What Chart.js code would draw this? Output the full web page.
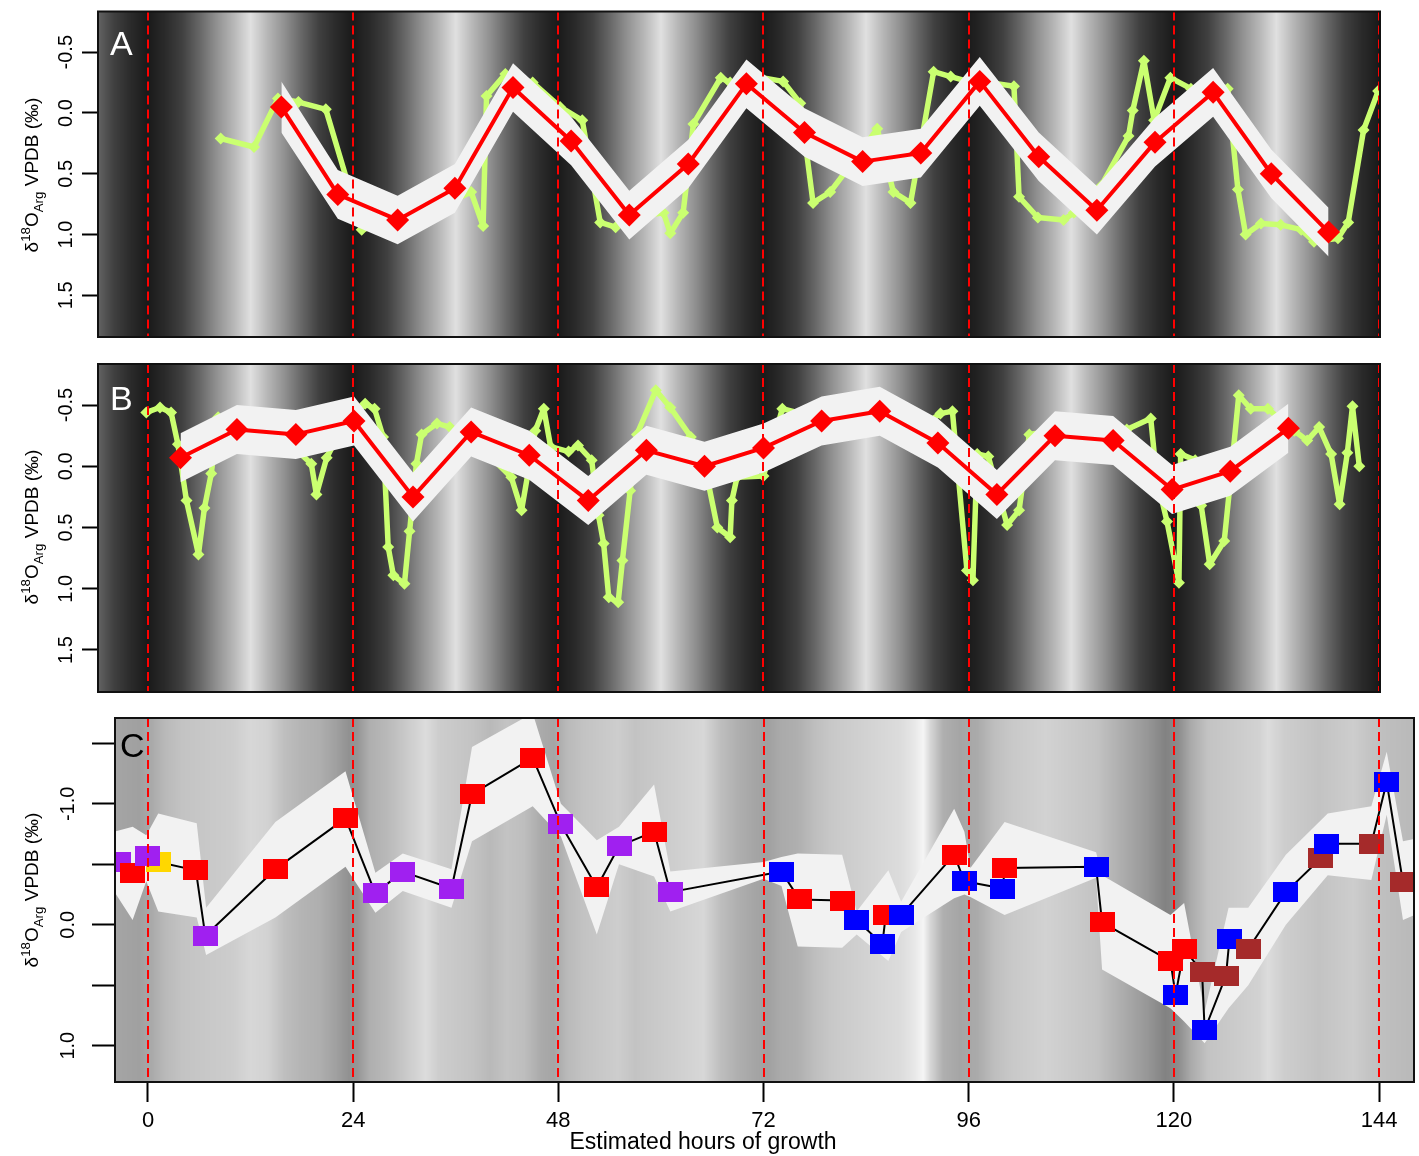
<!DOCTYPE html>
<html>
<head>
<meta charset="utf-8">
<script src="https://cdn.jsdelivr.net/npm/chart.js@4.4.0/dist/chart.umd.min.js"></script>
<style>
  body { margin: 0; background: #fff; width: 1419px; height: 1156px; overflow: hidden; position: relative; }
  canvas { position: absolute; left: 0; }
</style>
</head>
<body>
<canvas id="chartA" width="1419" height="350" style="top:0px"></canvas>
<canvas id="chartB" width="1419" height="355" style="top:350px"></canvas>
<canvas id="chartC" width="1425" height="451" style="top:705px"></canvas>
<script>
const FONT = "'Liberation Sans', Arial, Helvetica, sans-serif";

/* ─── axes ─── */
const dayLines = [0, 24, 48, 72, 96, 120, 144];
const hourTicks = [0, 24, 48, 72, 96, 120, 144];
const abTicks = [-0.5, 0.0, 0.5, 1.0, 1.5];
const abTickLabels = ['-0.5', '0.0', '0.5', '1.0', '1.5'];
const cTicks = [-1.5, -1.0, -0.5, 0.0, 0.5, 1.0];
const cTickLabels = ['', '-1.0', '', '0.0', '', '1.0'];

/* ─── panel A ─── */
const aHours = [15.6, 22.2, 29.2, 35.9, 42.7, 49.5, 56.3, 63.2, 70.0, 76.8, 83.6, 90.4, 97.3, 104.2, 111.0, 117.8, 124.6, 131.4, 138.1];
const aMean  = [-0.05, 0.67, 0.88, 0.62, -0.21, 0.23, 0.84, 0.42, -0.24, 0.16, 0.40, 0.33, -0.26, 0.36, 0.80, 0.24, -0.17, 0.50, 0.98];
const aUpper = [-0.26, 0.47, 0.68, 0.42, -0.41, 0.03, 0.64, 0.22, -0.44, -0.04, 0.20, 0.13, -0.46, 0.16, 0.60, 0.04, -0.37, 0.30, 0.78];
const aLower = [0.16, 0.87, 1.08, 0.82, -0.01, 0.43, 1.04, 0.62, -0.04, 0.36, 0.60, 0.53, -0.06, 0.56, 1.00, 0.44, 0.03, 0.70, 1.18];
const aRawHours = [8.5, 12.4, 15.2, 17.6, 20.8, 25.0, 31.8, 37.8, 39.2, 39.6, 41.8, 45.0, 48.2, 50.8, 52.9, 54.7, 57.5, 60.3, 61.1, 62.6,
  63.8, 67.0, 68.1, 71.0, 74.3, 76.3, 77.8, 79.8, 82.5, 85.3, 87.2, 89.2, 91.9, 93.9, 95.9, 98.5, 101.3, 101.9, 104.1, 107.1,
  108.3, 111.5, 114.7, 115.2, 116.5, 117.7, 119.6, 122.0, 124.5, 126.3, 127.5, 128.4, 130.2, 132.5, 134.9, 136.4, 139.2, 140.4, 142.2, 143.9];
const aRaw = [0.21, 0.28, -0.12, -0.09, -0.03, 0.96, 0.85, 0.65, 0.93, -0.14, -0.32, -0.25, -0.05, 0.06, 0.90, 0.94, 0.85, 0.82, 0.99, 0.82,
  0.09, -0.29, -0.25, -0.30, -0.26, -0.08, 0.74, 0.65, 0.40, 0.13, 0.65, 0.74, -0.34, -0.30, -0.26, -0.25, -0.22, 0.69, 0.86, 0.88,
  0.82, 0.60, 0.19, -0.02, -0.43, 0.06, -0.29, -0.20, -0.25, -0.20, 0.63, 1.00, 0.91, 0.92, 0.96, 1.06, 1.03, 0.90, 0.14, -0.18];

/* ─── panel B ─── */
const bHours = [3.8, 10.4, 17.3, 24.1, 31.0, 37.8, 44.6, 51.5, 58.3, 65.1, 72.0, 78.8, 85.6, 92.4, 99.3, 106.1, 112.9, 119.8, 126.6, 133.4];
const bMean  = [-0.07, -0.30, -0.26, -0.37, 0.25, -0.28, -0.09, 0.28, -0.13, 0.00, -0.15, -0.37, -0.45, -0.19, 0.23, -0.25, -0.21, 0.19, 0.04, -0.31];
const bUpper = [-0.27, -0.50, -0.46, -0.57, 0.05, -0.48, -0.29, 0.08, -0.33, -0.20, -0.35, -0.57, -0.65, -0.39, 0.03, -0.45, -0.41, -0.01, -0.16, -0.51];
const bLower = [0.13, -0.10, -0.06, -0.17, 0.45, -0.08, 0.11, 0.48, 0.07, 0.20, 0.05, -0.17, -0.25, 0.01, 0.43, -0.05, -0.01, 0.39, 0.24, -0.11];
const bRawHours = [-0.2, 1.4, 2.7, 3.5, 4.5, 5.9, 6.6, 7.4, 8.2, 12.0, 16.0, 19.1, 19.7, 20.9, 23.0, 25.4, 26.5, 27.5, 28.1, 28.7,
  30.0, 30.6, 31.4, 32.0, 33.8, 35.3, 39.0, 42.5, 43.7, 45.3, 46.3, 47.1, 49.2, 50.3, 51.9, 52.7, 53.3, 53.9, 55.0, 55.5,
  56.4, 57.2, 59.4, 61.1, 63.5, 65.0, 66.6, 68.1, 68.3, 68.9, 72.0, 74.2, 78.0, 82.0, 86.0, 90.0, 92.7, 94.1, 95.8, 96.5,
  97.0, 98.3, 100.5, 101.9, 103.1, 107.0, 111.6, 114.5, 117.3, 118.0, 119.2, 120.6, 120.8, 122.5, 123.2, 124.2, 125.9, 126.5, 127.6, 129.0,
  131.0, 132.5, 134.1, 135.6, 137.0, 138.4, 139.4, 140.3, 140.9, 141.7];
const bRaw = [-0.44, -0.48, -0.44, -0.18, 0.28, 0.72, 0.34, 0.06, -0.40, -0.28, -0.22, -0.02, 0.23, -0.07, -0.35, -0.51, -0.47, -0.24, 0.66, 0.89,
  0.96, 0.53, -0.02, -0.26, -0.35, -0.32, -0.15, 0.09, 0.36, -0.29, -0.47, -0.16, -0.12, -0.17, -0.05, 0.40, 0.63, 1.07, 1.11, 0.77,
  0.20, -0.26, -0.62, -0.48, -0.24, -0.05, 0.50, 0.58, 0.28, 0.09, 0.08, -0.47, -0.40, -0.45, -0.45, -0.30, -0.43, -0.45, 0.85, 0.93,
  -0.10, -0.08, 0.48, 0.36, -0.26, -0.30, -0.33, -0.30, -0.39, 0.10, 0.45, 0.95, -0.10, -0.05, 0.32, 0.80, 0.61, 0.20, -0.58, -0.47,
  -0.47, -0.38, -0.29, -0.21, -0.32, -0.10, 0.31, -0.11, -0.49, 0.00];

/* ─── panel C ─── */
const cHours = [-3.5, -1.8, 1.2, -0.1, 5.6, 6.7, 14.9, 23.1, 26.6, 29.8, 35.5, 37.9, 45.0, 48.3, 52.5, 55.1, 59.2, 61.1, 74.1, 76.2,
  81.2, 82.9, 85.9, 86.3, 88.1, 94.3, 95.5, 100.0, 100.2, 110.9, 111.6, 119.6, 120.2, 121.2, 123.3, 123.6, 126.1, 126.5, 128.7, 133.1,
  137.2, 137.9, 143.1, 144.9, 146.8];
const cValues = [-0.52, -0.43, -0.52, -0.57, -0.45, 0.09, -0.46, -0.88, -0.26, -0.44, -0.30, -1.08, -1.38, -0.83, -0.31, -0.65, -0.77, -0.27, -0.44, -0.21,
  -0.20, -0.04, 0.16, -0.08, -0.08, -0.58, -0.36, -0.30, -0.47, -0.48, -0.02, 0.30, 0.58, 0.20, 0.39, 0.87, 0.42, 0.12, 0.20, -0.27,
  -0.55, -0.67, -0.67, -1.18, -0.35];
const cGroups = ['purple', 'red', 'gold', 'purple', 'red', 'purple', 'red', 'red', 'purple', 'purple', 'purple', 'red', 'red', 'purple', 'red', 'purple', 'red', 'purple', 'blue', 'red',
  'red', 'blue', 'blue', 'red', 'blue', 'red', 'blue', 'blue', 'red', 'blue', 'red', 'red', 'blue', 'red', 'brown', 'blue', 'brown', 'blue', 'brown', 'blue',
  'brown', 'blue', 'brown', 'blue', 'brown'];
const cBandHours = [-3.9, -1.8, -0.2, 1.2, 5.7, 6.8, 14.9, 23.1, 26.6, 29.8, 35.5, 37.9, 45.0, 48.3, 52.5, 55.1, 59.2, 61.1, 72.0, 74.1,
  76.0, 81.2, 82.9, 86.6, 88.1, 94.3, 95.5, 96.2, 100.2, 110.9, 111.6, 119.6, 121.2, 123.6, 126.4, 128.7, 133.1, 138.0, 143.1, 144.9,
  146.8, 148.1];
const cBandUpper = [-0.77, -0.81, -0.74, -0.92, -0.84, -0.14, -0.85, -1.27, -0.43, -0.59, -0.46, -1.47, -1.75, -1.00, -0.70, -0.81, -1.16, -0.44, -0.52, -0.56,
  -0.59, -0.58, -0.11, -0.45, -0.19, -0.96, -0.77, -0.47, -0.85, -0.60, -0.41, -0.08, -0.18, 0.72, -0.14, -0.14, -0.58, -0.92, -0.98, -1.43,
  -0.69, -0.71];
const cBandLower = [-0.27, -0.04, -0.36, -0.11, -0.06, 0.25, -0.06, -0.48, -0.10, -0.28, -0.14, -0.69, -0.98, -0.73, 0.08, -0.50, -0.40, -0.11, -0.38, -0.32,
  0.18, 0.19, 0.08, 0.30, 0.06, -0.22, -0.25, -0.23, -0.08, -0.39, 0.37, 0.69, 0.80, 0.98, 0.69, 0.50, 0.00, -0.41, -0.37, -0.91,
  -0.04, -0.08];

/* ─── background shading ─── */
// one 24 h light cycle for A and B: hours after a dashed line -> grey level
const cycleHours = [0, 2, 4, 6, 8, 10, 12, 14, 16, 18, 20, 22, 24];
const cycleGray  = [26, 42, 64, 102, 144, 182, 224, 182, 144, 102, 64, 42, 26];
// growth-band greys behind C
const cShadeHours = [-3.9, -1, 0.5, 2, 4, 7, 10, 12, 14, 16, 18, 20, 22, 23.5, 24.5, 26, 28, 30, 32.5, 34,
  36, 38, 40, 42, 44, 46, 47.5, 49, 51, 53, 55, 57, 59, 61, 63, 65, 67, 69, 71, 72.5,
  74, 76, 78, 80, 82, 84, 86, 88, 89.5, 90.7, 91.5, 93, 95, 97, 99, 101, 103, 105, 107, 109,
  111, 113, 115, 117, 119, 120.5, 122, 124, 126, 128, 130, 131, 133, 135, 137, 139, 141, 143, 145, 148.1];
const cShadeGray = [165, 160, 170, 185, 195, 200, 205, 215, 210, 190, 180, 175, 160, 145, 150, 175, 185, 200, 220, 205,
  200, 195, 185, 195, 190, 170, 165, 185, 195, 200, 205, 195, 200, 205, 210, 215, 190, 175, 165, 160,
  170, 175, 190, 200, 205, 210, 215, 220, 230, 245, 215, 175, 165, 170, 190, 200, 205, 210, 205, 200,
  195, 180, 165, 150, 130, 140, 170, 195, 200, 205, 210, 220, 205, 200, 195, 200, 205, 195, 190, 185];

const MARKER = { red: '#ff0000', purple: '#a020f0', gold: '#ffd700', blue: '#0000ff', brown: '#a52a2a' };

function lerp(xs, ys, x) {
  if (x <= xs[0]) return ys[0];
  for (let i = 1; i < xs.length; i++) {
    if (x <= xs[i]) return ys[i - 1] + (ys[i] - ys[i - 1]) * (x - xs[i - 1]) / (xs[i] - xs[i - 1]);
  }
  return ys[ys.length - 1];
}

const pts = (xs, ys) => xs.map((x, i) => ({ x, y: ys[i] }));

function rectImg(color) {
  const c = document.createElement('canvas');
  c.width = 25; c.height = 20;
  const g = c.getContext('2d');
  g.fillStyle = color;
  g.fillRect(0, 0, 25, 20);
  return c;
}
const markerImg = {};
Object.keys(MARKER).forEach(k => { markerImg[k] = rectImg(MARKER[k]); });

function drawYTitle(ctx, cx, cy, size) {
  const parts = [['δ', 1, 0], ['18', 0.7, -0.42], ['O', 1, 0], ['Arg', 0.7, 0.28], [' VPDB (‰)', 1, 0]];
  ctx.save();
  ctx.translate(cx, cy);
  ctx.rotate(-Math.PI / 2);
  ctx.fillStyle = '#000';
  ctx.textAlign = 'left';
  ctx.textBaseline = 'alphabetic';
  let total = 0;
  parts.forEach(p => { ctx.font = (size * p[1]) + 'px ' + FONT; total += ctx.measureText(p[0]).width; });
  let x = -total / 2;
  parts.forEach(p => {
    ctx.font = (size * p[1]) + 'px ' + FONT;
    ctx.fillText(p[0], x, size * 0.36 + p[2] * size);
    x += ctx.measureText(p[0]).width;
  });
  ctx.restore();
}

function decor(opts) {
  return {
    id: 'decor' + opts.letter,
    beforeDraw(chart) {
      const { ctx, chartArea: a, scales: { x } } = chart;
      ctx.save();
      for (let px = Math.floor(a.left); px < a.right; px++) {
        const h = x.getValueForPixel(px + 0.5);
        let g;
        if (opts.shade === 'cycle') g = lerp(cycleHours, cycleGray, ((h % 24) + 24) % 24);
        else g = lerp(cShadeHours, cShadeGray, h);
        g = Math.round(g);
        ctx.fillStyle = 'rgb(' + g + ',' + g + ',' + g + ')';
        ctx.fillRect(px, a.top, 1, a.bottom - a.top);
      }
      ctx.restore();
    },
    afterDatasetsDraw(chart) {
      const { ctx, chartArea: a, scales: { x } } = chart;
      ctx.save();
      ctx.strokeStyle = '#ff0000';
      ctx.lineWidth = 2;
      ctx.setLineDash([9, 5]);
      dayLines.forEach(h => {
        const px = Math.round(x.getPixelForValue(h));
        ctx.beginPath();
        ctx.moveTo(px, a.top);
        ctx.lineTo(px, a.bottom);
        ctx.stroke();
      });
      ctx.restore();
    },
    afterDraw(chart) {
      const { ctx, chartArea: a } = chart;
      ctx.save();
      ctx.strokeStyle = '#111';
      ctx.lineWidth = 2;
      ctx.strokeRect(a.left, a.top, a.right - a.left, a.bottom - a.top);
      ctx.font = '34px ' + FONT;
      ctx.fillStyle = opts.letterColor;
      ctx.textAlign = 'left';
      ctx.textBaseline = 'alphabetic';
      ctx.fillText(opts.letter, opts.letterX, opts.letterY);
      if (opts.xTitle) {
        ctx.font = '23px ' + FONT;
        ctx.fillStyle = '#000';
        ctx.textAlign = 'center';
        ctx.textBaseline = 'middle';
        ctx.fillText(opts.xTitle, 703, opts.xTitleY);
      }
      ctx.restore();
      drawYTitle(ctx, 31, opts.titleY, 19);
    }
  };
}

function yAxis(min, max, ticks, labels, tickLen, pad, width) {
  return {
    type: 'linear', position: 'left', reverse: true, min, max,
    afterBuildTicks: s => { s.ticks = ticks.map(v => ({ value: v })); },
    afterFit: s => { s.width = width; s.paddingTop = 0; s.paddingBottom = 0; },
    grid: { drawOnChartArea: false, drawTicks: true, tickLength: tickLen, tickWidth: 2, tickColor: '#000', color: '#000' },
    border: { display: false },
    ticks: {
      minRotation: 90, maxRotation: 90, crossAlign: 'center', padding: pad, color: '#000',
      font: { family: FONT, size: 20 },
      callback: (v, i) => labels[i]
    }
  };
}

const baseOptions = {
  responsive: false, animation: false, devicePixelRatio: 1, events: [],
  plugins: { legend: { display: false }, tooltip: { enabled: false } }
};

function buildAB(id, letter, hours, mean, upper, lower, rawHours, raw, letterY, titleY, pad) {
  return new Chart(document.getElementById(id), {
    type: 'line',
    data: {
      datasets: [
        { data: pts(hours, mean), borderColor: '#ff0000', borderWidth: 4, borderJoinStyle: 'round', borderCapStyle: 'round',
          pointStyle: 'rectRot', pointRadius: 11.5, pointBackgroundColor: '#ff0000', pointBorderWidth: 0, order: 0 },
        { data: pts(hours, upper), borderColor: 'rgba(0,0,0,0)', pointRadius: 0, fill: '+1', backgroundColor: '#f2f2f2', order: 1 },
        { data: pts(hours, lower), borderColor: 'rgba(0,0,0,0)', pointRadius: 0, fill: false, order: 2 },
        { data: pts(rawHours, raw), borderColor: '#caff70', borderWidth: 5.5, borderJoinStyle: 'round', borderCapStyle: 'round',
          pointStyle: 'rectRot', pointRadius: 6, pointBackgroundColor: '#caff70', pointBorderWidth: 0, order: 3 }
      ]
    },
    options: {
      ...baseOptions,
      layout: { padding: pad },
      scales: {
        x: { type: 'linear', min: -5.85, max: 144.12, display: false },
        y: yAxis(-0.835, 1.843, abTicks, abTickLabels, 16, -2, 98)
      }
    },
    plugins: [decor({ letter, letterColor: '#fff', letterX: 110, letterY, shade: 'cycle', titleY })]
  });
}

buildAB('chartA', 'A', aHours, aMean, aUpper, aLower, aRawHours, aRaw, 55, 175, { left: 0, right: 39, top: 9, bottom: 13 });
buildAB('chartB', 'B', bHours, bMean, bUpper, bLower, bRawHours, bRaw, 60, 177, { left: 0, right: 39, top: 14, bottom: 13 });

const cLine = pts(cHours, cValues).slice().sort((p, q) => p.x - q.x);

new Chart(document.getElementById('chartC'), {
  type: 'line',
  data: {
    datasets: [
      { data: pts(cHours, cValues), showLine: false, pointStyle: cGroups.map(g => markerImg[g]), pointRadius: 10, order: 0 },
      { data: cLine, borderColor: '#000', borderWidth: 2, borderJoinStyle: 'round', pointRadius: 0, order: 1 },
      { data: pts(cBandHours, cBandUpper), borderColor: 'rgba(0,0,0,0)', pointRadius: 0, fill: '+1', backgroundColor: '#f2f2f2', order: 2 },
      { data: pts(cBandHours, cBandLower), borderColor: 'rgba(0,0,0,0)', pointRadius: 0, fill: false, order: 3 }
    ]
  },
  options: {
    ...baseOptions,
    layout: { padding: { left: 0, right: 5, top: 13, bottom: 0 } },
    scales: {
      x: {
        type: 'linear', position: 'bottom', min: -3.86, max: 148.09,
        afterBuildTicks: s => { s.ticks = hourTicks.map(v => ({ value: v })); },
        afterFit: s => { s.height = 74; s.paddingLeft = 0; s.paddingRight = 0; },
        grid: { drawOnChartArea: false, drawTicks: true, tickLength: 20, tickWidth: 2, tickColor: '#000', color: '#000' },
        border: { display: false },
        ticks: { maxRotation: 0, minRotation: 0, autoSkip: false, padding: 6, color: '#000',
          font: { family: FONT, size: 22 }, callback: (v, i) => String(hourTicks[i]) }
      },
      y: yAxis(-1.71, 1.30, cTicks, cTickLabels, 23, 6, 115)
    }
  },
  plugins: [decor({ letter: 'C', letterColor: '#000', letterX: 120, letterY: 52, shade: 'c', titleY: 185,
    xTitle: 'Estimated hours of growth', xTitleY: 438 })]
});
</script>
</body>
</html>
